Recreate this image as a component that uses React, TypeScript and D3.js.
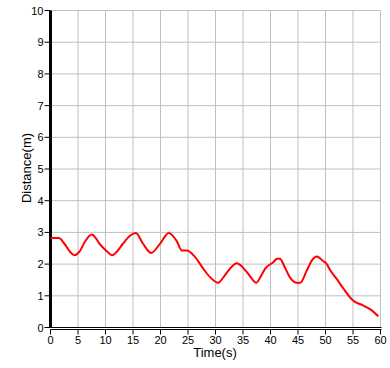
import React from "react";
import * as d3 from "d3";

const times = [0, 1.5, 2.5, 3.5, 4.3, 5.3, 6.3, 7.5, 8.3, 9, 10.1, 11.2, 12.2, 13.2, 14.5, 15.5, 16.8, 18.3, 19.9, 21.5, 22.9, 23.9, 24.8, 26.3, 27.8, 29, 30.5, 31.5, 32.6, 33.85, 35.7, 36.6, 37.4, 38.2, 39, 40.5, 41.2, 41.7, 42.6, 43.5, 44.8, 45.4, 46.6, 47.5, 48.4, 49.6, 50.2, 50.8, 52, 53.5, 55, 56.9, 58.4, 59.6];
const distances = [2.82, 2.82, 2.65, 2.4, 2.28, 2.4, 2.72, 2.93, 2.8, 2.62, 2.43, 2.28, 2.42, 2.65, 2.9, 2.98, 2.65, 2.35, 2.64, 2.98, 2.74, 2.43, 2.43, 2.22, 1.85, 1.59, 1.41, 1.6, 1.85, 2.03, 1.75, 1.54, 1.41, 1.6, 1.85, 2.06, 2.17, 2.17, 1.9, 1.59, 1.41, 1.41, 1.8, 2.11, 2.24, 2.09, 2.01, 1.82, 1.54, 1.17, 0.85, 0.69, 0.54, 0.35];
const xTicks = [0, 5, 10, 15, 20, 25, 30, 35, 40, 45, 50, 55, 60];
const yTicks = [0, 1, 2, 3, 4, 5, 6, 7, 8, 9, 10];

export default function App() {
  const W = 390, H = 368;
  const x = d3.scaleLinear().domain([0, 60]).range([50.5, 380.5]);
  const y = d3.scaleLinear().domain([0, 10]).range([327.5, 10.5]);
  const pts = times.map((t, i) => [t, distances[i]] as [number, number]);
  const line = d3.line<[number, number]>().x(d => x(d[0])).y(d => y(d[1])).curve(d3.curveMonotoneX);
  const font = "'Liberation Sans', Arial, sans-serif";
  return (
    <svg width={W} height={H} style={{ position: "absolute", left: 0, top: 0, background: "#fff" }}>
      <rect width={W} height={H} fill="#fff" />
      {xTicks.filter(t => t > 0).map(t => (
        <line key={"gx" + t} x1={x(t)} x2={x(t)} y1={y(10)} y2={y(0)} stroke="#c0c0c0" strokeWidth={1} />
      ))}
      {yTicks.filter(t => t > 0).map(t => (
        <line key={"gy" + t} x1={x(0)} x2={x(60)} y1={y(t)} y2={y(t)} stroke="#c0c0c0" strokeWidth={1} />
      ))}
      <line x1={x(0)} x2={x(60) + 1} y1={y(0)} y2={y(0)} stroke="#000" strokeWidth={1} />
      <line x1={x(0)} x2={x(60) + 1} y1={y(0) + 2} y2={y(0) + 2} stroke="#000" strokeWidth={1} />
      {xTicks.map(t => (
        <g key={"tx" + t}>
          <line x1={x(t)} x2={x(t)} y1={y(0) + 2} y2={y(0) + 7} stroke="#000" strokeWidth={1} />
          <text x={x(t)} y={y(0) + 16} textAnchor="middle" fontFamily={font} fontSize={11} fill="#000">{t}</text>
        </g>
      ))}
      {yTicks.map(t => (
        <g key={"ty" + t}>
          <line x1={x(0) - 6} x2={x(0)} y1={y(t)} y2={y(t)} stroke="#000" strokeWidth={1} />
          <text x={x(0) - 7} y={y(t) + 4} textAnchor="end" fontFamily={font} fontSize={11} fill="#000">{t}</text>
        </g>
      ))}
      <line x1={x(0)} x2={x(0)} y1={y(10)} y2={y(0)} stroke="#000" strokeWidth={3} />
      <path d={line(pts) || ""} fill="none" stroke="#ff0000" strokeWidth={2} strokeLinejoin="round" />
      <text x={215} y={357} textAnchor="middle" fontFamily={font} fontSize={13} fill="#000">Time(s)</text>
      <text transform="translate(31,168) rotate(-90)" textAnchor="middle" fontFamily={font} fontSize={13} fill="#000">Distance(m)</text>
    </svg>
  );
}
